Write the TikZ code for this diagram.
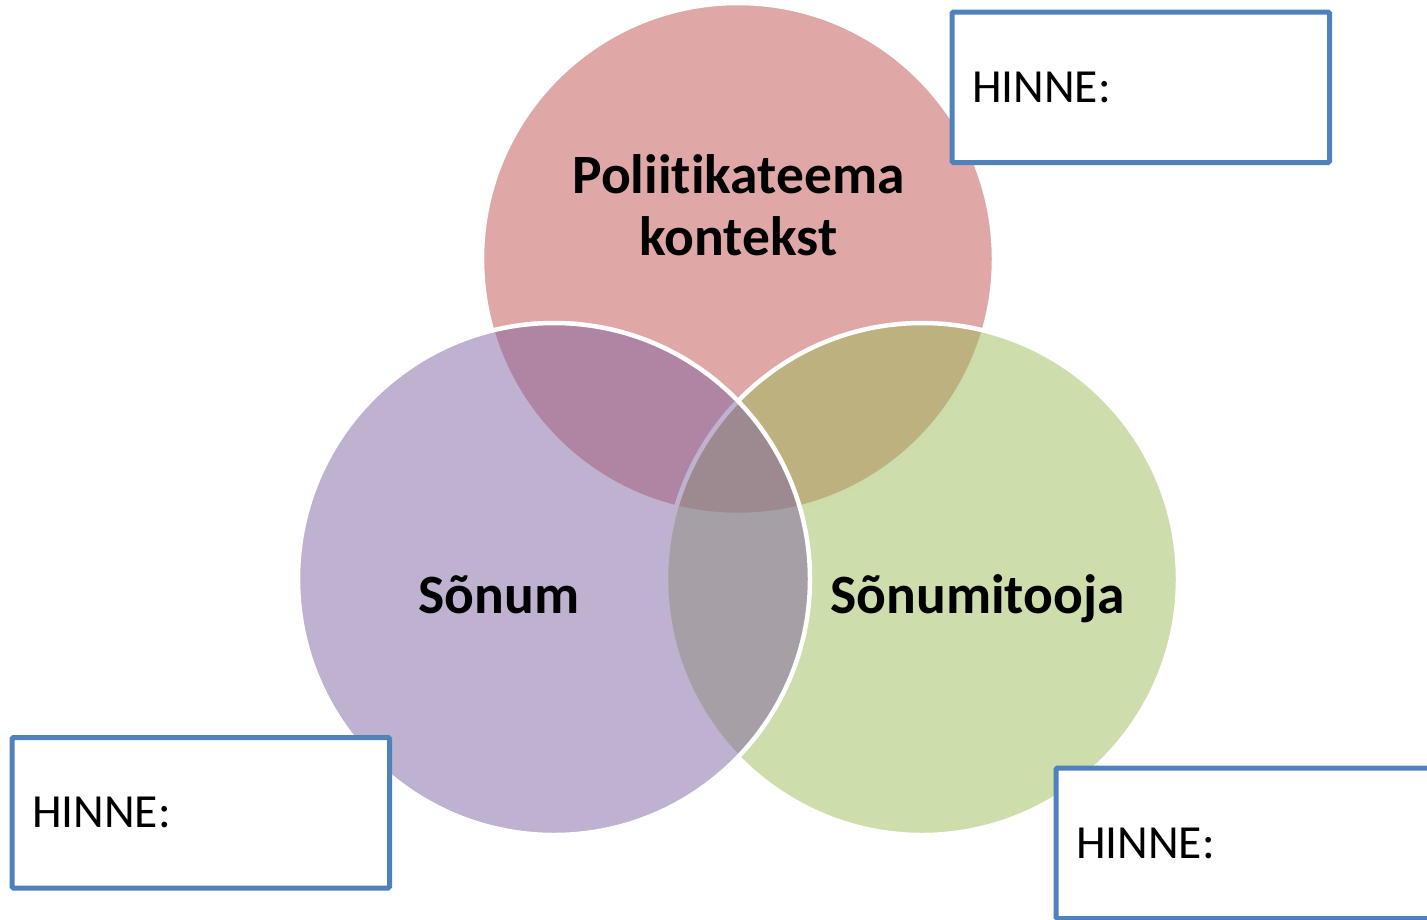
\documentclass[tikz,border=0pt]{standalone}
\usepackage{fontspec}
\setmainfont[Ligatures=NoCommon]{Carlito}
\definecolor{vred}{HTML}{C0504D}
\definecolor{vpurple}{HTML}{8064A2}
\definecolor{vgreen}{HTML}{9BBB59}
\definecolor{vblue}{HTML}{4F81BD}
\begin{document}
\begin{tikzpicture}[x=1pt,y=-1pt,
  venn/.style={circle, minimum size=512pt, inner sep=0pt, draw=white, line width=4.5pt, fill opacity=0.5},
  venntext/.style={font=\fontsize{55.5}{62}\selectfont\bfseries, inner sep=0pt, anchor=base, align=center},
  gradebox/.style={draw=vblue, line width=5pt, fill=white, rounded corners=1.5pt,
    text width=337.5pt, inner xsep=20pt, inner ysep=0pt, minimum height=150.5pt,
    align=left, font=\fontsize{47.5}{56}\selectfont}]
\useasboundingbox (0,0) rectangle (1427,919);
\clip (0,0) rectangle (1427,919);
% circles
\node[venn, fill=vred] (ctop) at (738,259) {};
\node[venn, fill=vgreen] (cright) at (922,579) {};
\node[venn, fill=vpurple] (cleft) at (554,579) {};
% labels
\node[venntext] (ttop) at (738.5,255) {Poliitikateema\\kontekst};
\node[venntext] (tleft) at (499,613) {Sõnum};
\node[venntext] (tright) at (977.5,613) {Sõnumitooja};
% grade boxes
\node[gradebox] (box1) at (1140.75,87.25) {HINNE:};
\node[gradebox] (box2) at (200.75,812.75) {HINNE:};
\node[gradebox] (box3) at (1244.75,843.25) {HINNE:};
\end{tikzpicture}
\end{document}
